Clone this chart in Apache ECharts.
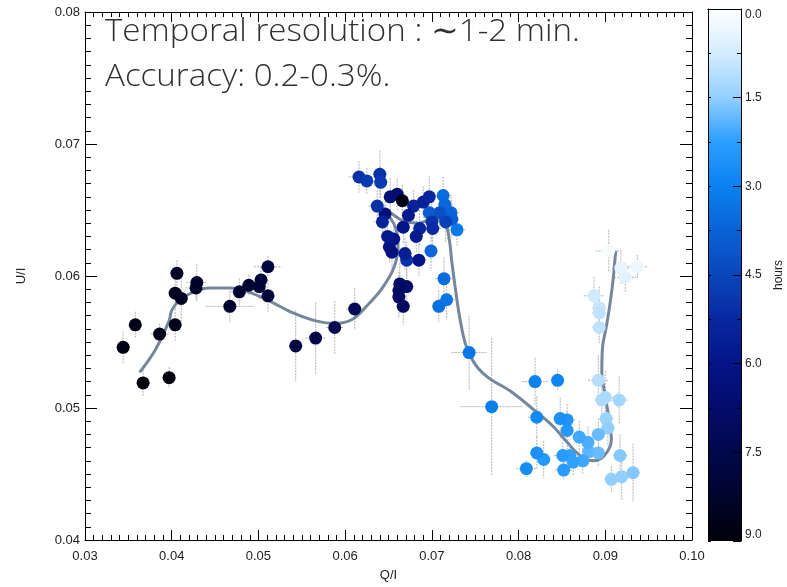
<!DOCTYPE html>
<html>
<head>
<meta charset="utf-8">
<script src="https://cdn.jsdelivr.net/npm/echarts@6/dist/echarts.min.js"></script>
<style>
  html, body { margin: 0; padding: 0; background: #ffffff; }
  #chart { width: 787px; height: 587px; }
</style>
</head>
<body>
<div id="chart"></div>
<script>
// Polarimetric measurements: Q/I, U/I, their 1-sigma errors and the time of each sample (hours)
const qValues = [
  0.0904, 0.0937, 0.0918, 0.0923, 0.0887, 0.0893, 0.0893, 0.0893, 0.0892, 0.0900,
  0.0896, 0.0916, 0.0901, 0.0903, 0.0917, 0.0907, 0.0919, 0.0932, 0.0892, 0.0881,
  0.0892, 0.0880, 0.0870, 0.0874, 0.0863, 0.0859, 0.0851, 0.0852, 0.0829, 0.0821,
  0.0809, 0.0856, 0.0856, 0.0848, 0.0821, 0.0845, 0.0819, 0.0769, 0.0743, 0.0717,
  0.0708, 0.0714, 0.0729, 0.0699, 0.0713, 0.0715, 0.0722, 0.0723, 0.0697, 0.0709,
  0.0716, 0.0700, 0.0701, 0.0690, 0.0697, 0.0679, 0.0686, 0.0682, 0.0673, 0.0667,
  0.0685, 0.0671, 0.0669, 0.0654, 0.0651, 0.0656, 0.0649, 0.0646, 0.0643, 0.0637,
  0.0652, 0.0660, 0.0666, 0.0616, 0.0625, 0.0640, 0.0641, 0.0663, 0.0671, 0.0662,
  0.0662, 0.0667, 0.0611, 0.0588, 0.0566, 0.0543, 0.0511, 0.0511, 0.0503, 0.0501,
  0.0489, 0.0478, 0.0467, 0.0429, 0.0428, 0.0411, 0.0404, 0.0406, 0.0404, 0.0386,
  0.0358, 0.0344, 0.0397, 0.0367
];
const uValues = [
  0.0619, 0.0607, 0.0606, 0.0599, 0.0585, 0.0576, 0.0572, 0.0561, 0.0521, 0.0508,
  0.0506, 0.0506, 0.0492, 0.0485, 0.0464, 0.0446, 0.0448, 0.0451, 0.0480, 0.0467,
  0.0466, 0.0474, 0.0478, 0.0460, 0.0459, 0.0464, 0.0464, 0.0453, 0.0461, 0.0466,
  0.0454, 0.0483, 0.0491, 0.0492, 0.0493, 0.0521, 0.0520, 0.0501, 0.0542, 0.0582,
  0.0577, 0.0598, 0.0635, 0.0619, 0.0661, 0.0654, 0.0648, 0.0643, 0.0648, 0.0648,
  0.0641, 0.0641, 0.0636, 0.0656, 0.0660, 0.0653, 0.0636, 0.0630, 0.0646, 0.0637,
  0.0612, 0.0612, 0.0617, 0.0618, 0.0622, 0.0628, 0.0630, 0.0647, 0.0641, 0.0653,
  0.0660, 0.0662, 0.0657, 0.0675, 0.0672, 0.0677, 0.0671, 0.0594, 0.0592, 0.0589,
  0.0584, 0.0577, 0.0575, 0.0561, 0.0553, 0.0547, 0.0607, 0.0585, 0.0597, 0.0592,
  0.0593, 0.0588, 0.0577, 0.0595, 0.0591, 0.0583, 0.0587, 0.0602, 0.0563, 0.0556,
  0.0563, 0.0546, 0.0523, 0.0519
];
const qErrors = [
  0.0015, 0.0012, 0.0010, 0.0013, 0.0012, 0.0008, 0.0008, 0.0008, 0.0012, 0.0010,
  0.0008, 0.0010, 0.0008, 0.0008, 0.0008, 0.0008, 0.0008, 0.0008, 0.0008, 0.0008,
  0.0008, 0.0008, 0.0008, 0.0008, 0.0010, 0.0008, 0.0010, 0.0010, 0.0008, 0.0008,
  0.0012, 0.0008, 0.0010, 0.0008, 0.0010, 0.0008, 0.0015, 0.0036, 0.0020, 0.0010,
  0.0008, 0.0010, 0.0010, 0.0008, 0.0010, 0.0008, 0.0010, 0.0008, 0.0008, 0.0008,
  0.0008, 0.0008, 0.0010, 0.0008, 0.0008, 0.0010, 0.0008, 0.0008, 0.0008, 0.0008,
  0.0008, 0.0008, 0.0008, 0.0008, 0.0008, 0.0008, 0.0008, 0.0008, 0.0010, 0.0010,
  0.0008, 0.0008, 0.0008, 0.0012, 0.0010, 0.0008, 0.0008, 0.0008, 0.0008, 0.0008,
  0.0008, 0.0008, 0.0010, 0.0010, 0.0012, 0.0008, 0.0016, 0.0008, 0.0008, 0.0008,
  0.0008, 0.0010, 0.0028, 0.0012, 0.0012, 0.0008, 0.0008, 0.0008, 0.0008, 0.0010,
  0.0008, 0.0008, 0.0008, 0.0008
];
const uErrors = [
  0.0016, 0.0009, 0.0012, 0.0011, 0.0014, 0.0016, 0.0012, 0.0012, 0.0019, 0.0020,
  0.0015, 0.0018, 0.0012, 0.0014, 0.0016, 0.0010, 0.0018, 0.0022, 0.0012, 0.0010,
  0.0010, 0.0012, 0.0012, 0.0010, 0.0010, 0.0010, 0.0010, 0.0008, 0.0014, 0.0012,
  0.0006, 0.0014, 0.0012, 0.0016, 0.0016, 0.0008, 0.0018, 0.0052, 0.0028, 0.0015,
  0.0012, 0.0016, 0.0012, 0.0015, 0.0014, 0.0012, 0.0012, 0.0014, 0.0012, 0.0012,
  0.0016, 0.0014, 0.0014, 0.0012, 0.0016, 0.0012, 0.0014, 0.0012, 0.0010, 0.0012,
  0.0012, 0.0014, 0.0012, 0.0012, 0.0012, 0.0012, 0.0012, 0.0012, 0.0012, 0.0012,
  0.0014, 0.0012, 0.0012, 0.0012, 0.0010, 0.0018, 0.0012, 0.0016, 0.0014, 0.0014,
  0.0016, 0.0014, 0.0016, 0.0020, 0.0027, 0.0027, 0.0008, 0.0012, 0.0010, 0.0010,
  0.0008, 0.0010, 0.0012, 0.0014, 0.0010, 0.0018, 0.0012, 0.0010, 0.0012, 0.0008,
  0.0010, 0.0012, 0.0008, 0.0010
];
const hours = [
  0.1, 0.3, 0.4, 0.5, 0.8, 0.9, 1.0, 1.0, 1.1, 1.2,
  1.2, 1.3, 1.4, 1.5, 1.6, 1.5, 1.5, 1.6, 1.8, 1.9,
  1.8, 2.0, 2.1, 2.1, 2.2, 2.2, 2.3, 2.3, 2.4, 2.6,
  2.7, 2.4, 2.5, 2.6, 2.8, 2.9, 3.0, 3.1, 3.3, 3.3,
  3.4, 3.5, 3.2, 3.6, 3.5, 3.6, 3.7, 3.8, 3.9, 4.2,
  4.6, 5.0, 5.2, 5.5, 5.3, 5.5, 5.4, 5.8, 5.8, 6.0,
  6.0, 5.0, 5.6, 6.2, 6.2, 6.0, 5.8, 6.3, 5.5, 5.0,
  6.5, 6.6, 8.8, 5.0, 4.8, 5.0, 4.8, 6.8, 6.8, 6.9,
  6.9, 7.0, 7.2, 7.4, 7.6, 7.7, 7.8, 7.9, 8.0, 8.0,
  8.1, 8.1, 8.2, 8.3, 8.3, 8.4, 8.5, 8.5, 8.6, 8.7,
  8.7, 8.8, 8.9, 9.0
];

// Smoothed track through the time series
const trackQ = [
  0.0363, 0.0381, 0.0397, 0.0400, 0.0408, 0.0425, 0.0444, 0.0467, 0.0488, 0.0513,
  0.0540, 0.0566, 0.0588, 0.0608, 0.0626, 0.0643, 0.0656, 0.0661, 0.0659, 0.0652,
  0.0640, 0.0652, 0.0666, 0.0684, 0.0701, 0.0715, 0.0720, 0.0723, 0.0727, 0.0732,
  0.0739, 0.0750, 0.0765, 0.0790, 0.0817, 0.0840, 0.0856, 0.0871, 0.0886, 0.0899,
  0.0907, 0.0905, 0.0900, 0.0896, 0.0897, 0.0901, 0.0905, 0.0909, 0.0912
];
const trackU = [
  0.0527, 0.0544, 0.0566, 0.0574, 0.0581, 0.0588, 0.0591, 0.0591, 0.0588, 0.0581,
  0.0572, 0.0566, 0.0564, 0.0567, 0.0578, 0.0591, 0.0606, 0.0622, 0.0635, 0.0644,
  0.0652, 0.0648, 0.0642, 0.0640, 0.0643, 0.0640, 0.0628, 0.0611, 0.0591, 0.0569,
  0.0548, 0.0533, 0.0523, 0.0513, 0.0499, 0.0486, 0.0474, 0.0464, 0.0460, 0.0464,
  0.0476, 0.0489, 0.0509, 0.0527, 0.0547, 0.0561, 0.0577, 0.0597, 0.0619
];

// Axis ranges
const qRange = [0.03, 0.10];
const uRange = [0.04, 0.08];
const hourRange = [0, 9];

// Colour table for the time scale, evenly spaced from 0 h (top) to 9 h (bottom)
const hourColors = [
  '#ffffff', '#d4ecff', '#92cfff', '#2a9eff', '#0a82f0', '#0a62d6', '#0a46bc',
  '#0828a0', '#041488', '#030c6a', '#02084c', '#01042c', '#000008'
];

const annotationLines = ['Temporal resolution : \u223C1-2 min.', 'Accuracy: 0.2-0.3%.'];

const points = qValues.map((q, i) => [q, uValues[i], hours[i]]);
const errorBars = qValues.map((q, i) => [q, uValues[i], qErrors[i], uErrors[i]]);
const track = trackQ.map((q, i) => [q, trackU[i]]);

const chart = echarts.init(document.getElementById('chart'), null, { renderer: 'canvas' });

const axisFont = { fontFamily: 'Liberation Sans, DejaVu Sans, sans-serif', fontSize: 13, color: '#222' };

function fmt2(v) { return v.toFixed(2); }

// Annotation font, narrowed horizontally to a Calibri-like width
const annFont = '300 32px "Open Sans"';
const ctx = document.createElement('canvas').getContext('2d');
ctx.font = annFont;
const w1 = ctx.measureText(annotationLines[0]).width;
const annScale = 475 / w1;

const gradStops = hourColors.map((c, i) => ({ offset: i / (hourColors.length - 1), color: c }));

const option = {
  animation: false,
  backgroundColor: '#ffffff',
  textStyle: axisFont,
  grid: [
    { left: 85, top: 12, width: 607, height: 529, containLabel: false },
    { left: 708, top: 9, width: 33, height: 532, containLabel: false }
  ],
  visualMap: {
    show: false,
    type: 'continuous',
    min: hourRange[0],
    max: hourRange[1],
    dimension: 2,
    seriesIndex: 2,
    inRange: { color: hourColors }
  },
  xAxis: [
    {
      type: 'value', gridIndex: 0, min: qRange[0], max: qRange[1], interval: 0.01,
      name: 'Q/I', nameLocation: 'middle', nameGap: 29,
      nameTextStyle: { fontSize: 13, color: '#222' },
      axisLine: { show: true, lineStyle: { color: '#000', width: 1 } },
      axisTick: { show: true, inside: true, length: 10, lineStyle: { color: '#000' } },
      minorTick: { show: true, splitNumber: 10, length: 5, lineStyle: { color: '#000' } },
      axisLabel: { margin: 10, formatter: fmt2, fontSize: 13, color: '#222' },
      splitLine: { show: false }, z: 10
    },
    {
      type: 'value', gridIndex: 0, position: 'top', min: qRange[0], max: qRange[1], interval: 0.01,
      axisLine: { show: true, lineStyle: { color: '#000', width: 1 } },
      axisTick: { show: true, inside: true, length: 10, lineStyle: { color: '#000' } },
      minorTick: { show: true, splitNumber: 10, length: 5, lineStyle: { color: '#000' } },
      axisLabel: { show: false }, splitLine: { show: false }, z: 10
    },
    {
      type: 'category', gridIndex: 1, data: ['hours'], boundaryGap: true,
      axisLine: { show: true, lineStyle: { color: '#000' } },
      axisTick: { show: false }, axisLabel: { show: false }, z: 10
    },
    {
      type: 'category', gridIndex: 1, position: 'top', data: ['hours'], boundaryGap: true,
      axisLine: { show: true, lineStyle: { color: '#000' } },
      axisTick: { show: false }, axisLabel: { show: false }, z: 10
    }
  ],
  yAxis: [
    {
      type: 'value', gridIndex: 0, min: uRange[0], max: uRange[1], interval: 0.01,
      name: 'U/I', nameLocation: 'middle', nameGap: 57, nameRotate: 90,
      nameTextStyle: { fontSize: 13, color: '#222' },
      axisLine: { show: true, lineStyle: { color: '#000', width: 1 } },
      axisTick: { show: true, inside: true, length: 12, lineStyle: { color: '#000' } },
      minorTick: { show: true, splitNumber: 10, length: 6, lineStyle: { color: '#000' } },
      axisLabel: { margin: 5, formatter: fmt2, fontSize: 13, color: '#222' },
      splitLine: { show: false }, z: 10
    },
    {
      type: 'value', gridIndex: 0, position: 'right', min: uRange[0], max: uRange[1], interval: 0.01,
      axisLine: { show: true, lineStyle: { color: '#000', width: 1 } },
      axisTick: { show: true, inside: true, length: 12, lineStyle: { color: '#000' } },
      minorTick: { show: true, splitNumber: 10, length: 6, lineStyle: { color: '#000' } },
      axisLabel: { show: false }, splitLine: { show: false }, z: 10
    },
    {
      type: 'value', gridIndex: 1, position: 'right', inverse: true,
      min: hourRange[0], max: hourRange[1], interval: 1.5,
      name: 'hours', nameLocation: 'middle', nameGap: 32, nameRotate: 90,
      nameTextStyle: { fontSize: 12, color: '#222' },
      axisLine: { show: true, lineStyle: { color: '#000' } },
      axisTick: { show: true, inside: true, length: 8, lineStyle: { color: '#000' } },
      minorTick: { show: true, splitNumber: 2, length: 4, lineStyle: { color: '#000' } },
      axisLabel: {
        margin: 4, fontSize: 12, color: '#222', formatter: (v) => v.toFixed(1),
        verticalAlignMinLabel: 'top', verticalAlignMaxLabel: 'bottom'
      },
      splitLine: { show: false }, z: 10
    },
    {
      type: 'value', gridIndex: 1, position: 'left', inverse: true,
      min: hourRange[0], max: hourRange[1], interval: 0.75,
      axisLine: { show: true, lineStyle: { color: '#000' } },
      axisTick: { show: true, inside: true, length: 3, lineStyle: { color: '#000' } },
      axisLabel: { show: false }, splitLine: { show: false }, z: 10
    }
  ],
  series: [
    {
      // error bars in Q/I and U/I
      type: 'custom',
      xAxisIndex: 0, yAxisIndex: 0,
      data: errorBars,
      z: 1,
      silent: true,
      renderItem: function (params, api) {
        const q = api.value(0), u = api.value(1), dq = api.value(2), du = api.value(3);
        const c = api.coord([q, u]);
        const l = api.coord([q - dq, u]);
        const r = api.coord([q + dq, u]);
        const t = api.coord([q, u + du]);
        const b = api.coord([q, u - du]);
        const style = { stroke: '#b4b4b4', lineWidth: 1, lineDash: [2, 1] };
        return {
          type: 'group',
          children: [
            { type: 'line', shape: { x1: l[0], y1: c[1], x2: r[0], y2: c[1] }, style: style },
            { type: 'line', shape: { x1: c[0], y1: t[1], x2: c[0], y2: b[1] }, style: style }
          ]
        };
      }
    },
    {
      // smoothed track
      type: 'line',
      xAxisIndex: 0, yAxisIndex: 0,
      data: track,
      smooth: 0.35,
      showSymbol: false,
      symbol: 'none',
      silent: true,
      z: 2,
      lineStyle: { color: '#74879d', width: 3 }
    },
    {
      // measurements coloured by time
      type: 'scatter',
      xAxisIndex: 0, yAxisIndex: 0,
      data: points,
      symbol: 'circle',
      symbolSize: 13,
      z: 3,
      itemStyle: { opacity: 1 }
    },
    {
      // colour bar
      type: 'bar',
      xAxisIndex: 2, yAxisIndex: 2,
      data: [hourRange[1]],
      barWidth: '100%',
      silent: true,
      itemStyle: {
        color: new echarts.graphic.LinearGradient(0, 0, 0, 1, gradStops)
      }
    }
  ],
  graphic: [
    {
      type: 'text', left: 105, top: 16, z: 20, scaleX: annScale,
      style: { text: annotationLines[0], font: annFont, fill: '#303030' }
    },
    {
      type: 'text', left: 105, top: 61, z: 20, scaleX: annScale,
      style: { text: annotationLines[1], font: annFont, fill: '#303030' }
    }
  ]
};

chart.setOption(option);
</script>
</body>
</html>
